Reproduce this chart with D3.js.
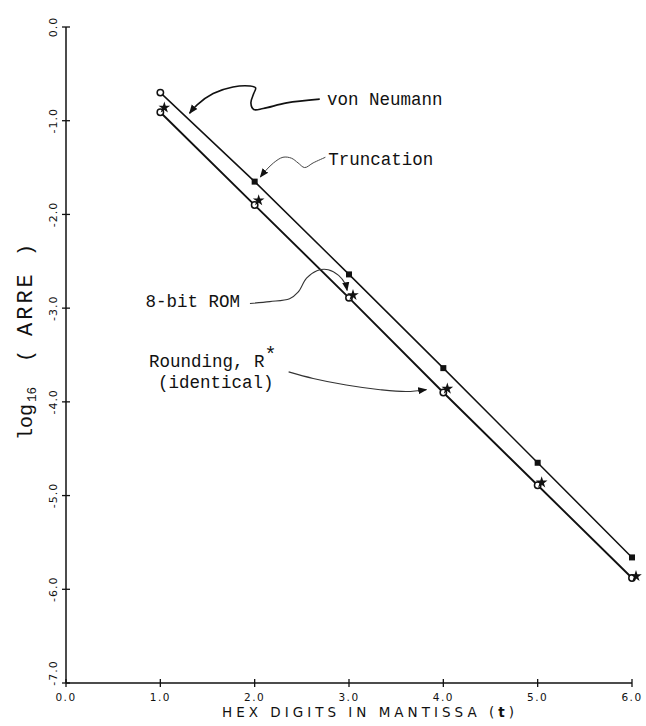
<!DOCTYPE html>
<html>
<head>
<meta charset="utf-8">
<script src="https://cdn.jsdelivr.net/npm/d3@7/dist/d3.min.js"></script>
<style>
  body { margin: 0; background: #fff; }
  svg { display: block; }
</style>
</head>
<body>
<svg id="chart" width="646" height="726"></svg>
<script>
// values, log16(ARRE) vs hex digits t
const hexDigits = [1, 2, 3, 4, 5, 6];
const xTicks = [0, 1, 2, 3, 4, 5, 6];
const yTicks = [0, -1, -2, -3, -4, -5, -6, -7];

const vonNeumannT = [1];
const vonNeumann = [-0.70];
const truncationT = [2, 3, 4, 5, 6];
const truncation = [-1.65, -2.64, -3.64, -4.65, -5.66];
const rounding = [-0.91, -1.90, -2.89, -3.90, -4.89, -5.88];   // R* identical
const rom8bit = [-0.86, -1.85, -2.86, -3.86, -4.86, -5.86];

// annotation curves, in data units [t, log16]
const arrowVonNeumann = [[2.69, -0.77], [2.34, -0.81], [2.09, -0.87], [1.99, -0.88], [1.96, -0.81],
  [1.99, -0.71], [2.01, -0.65], [1.95, -0.63], [1.77, -0.64], [1.56, -0.71], [1.39, -0.83], [1.31, -0.92]];
const arrowTruncation = [[2.75, -1.39], [2.62, -1.45], [2.53, -1.50], [2.46, -1.45], [2.39, -1.40],
  [2.30, -1.39], [2.20, -1.45], [2.11, -1.54], [2.06, -1.60]];
const arrowRom = [[1.95, -2.95], [2.16, -2.93], [2.37, -2.90], [2.46, -2.83], [2.55, -2.68],
  [2.66, -2.60], [2.78, -2.59], [2.89, -2.65], [2.96, -2.74], [2.98, -2.81]];
const arrowRounding = [[2.36, -3.68], [2.62, -3.75], [2.97, -3.82], [3.33, -3.87], [3.61, -3.89], [3.82, -3.87]];

const svg = d3.select('#chart');

const x = d3.scaleLinear().domain([0, 6]).range([66, 632]);
const y = d3.scaleLinear().domain([-7, 0]).range([683, 27]);

svg.append('defs').append('marker')
  .attr('id', 'head')
  .attr('viewBox', '0 0 10 10')
  .attr('refX', 9).attr('refY', 5)
  .attr('markerWidth', 9).attr('markerHeight', 9)
  .attr('markerUnits', 'userSpaceOnUse')
  .attr('orient', 'auto')
  .append('path').attr('d', 'M0,1 L10,5 L0,9 Z').attr('fill', '#111');

/***** Axes *****/
const yAxis = svg.append('g').attr('transform', `translate(${x(0)},0)`);
yAxis.append('line')
  .attr('y1', y(0)).attr('y2', y(-7))
  .attr('stroke', '#111').attr('stroke-width', 1.5);
yAxis.selectAll('line.tick').data(yTicks).join('line')
  .attr('class', 'tick')
  .attr('x1', -4).attr('x2', 4)
  .attr('y1', d => y(d)).attr('y2', d => y(d))
  .attr('stroke', '#111').attr('stroke-width', 1.3);
yAxis.selectAll('text').data(yTicks).join('text')
  .attr('transform', d => `translate(-9,${y(d) - (d === -7 ? 10 : 0)}) rotate(-90)`)
  .attr('text-anchor', 'middle')
  .attr('font-family', 'DejaVu Sans')
  .attr('font-size', 11)
  .attr('letter-spacing', 1)
  .attr('fill', '#111')
  .text(d => d3.format('.1f')(d).replace('−', '-'));

const xAxis = svg.append('g').attr('transform', `translate(0,${y(-7)})`);
xAxis.append('line')
  .attr('x1', x(0)).attr('x2', x(6))
  .attr('stroke', '#111').attr('stroke-width', 1.5);
xAxis.selectAll('line.tick').data(xTicks).join('line')
  .attr('class', 'tick')
  .attr('y1', -4).attr('y2', 4)
  .attr('x1', d => x(d)).attr('x2', d => x(d))
  .attr('stroke', '#111').attr('stroke-width', 1.3);
xAxis.selectAll('text').data(xTicks).join('text')
  .attr('x', d => x(d)).attr('y', 18)
  .attr('text-anchor', 'middle')
  .attr('font-family', 'DejaVu Sans')
  .attr('font-size', 10.5)
  .attr('letter-spacing', 1.5)
  .attr('fill', '#111')
  .text(d => d3.format('.1f')(d));

const xTitle = svg.append('text')
  .attr('x', 222).attr('y', 717)
  .attr('textLength', 292).attr('lengthAdjust', 'spacing')
  .attr('font-family', 'DejaVu Sans')
  .attr('font-size', 13.5)
  .attr('fill', '#111');
xTitle.append('tspan').text('HEX DIGITS IN MANTISSA (');
xTitle.append('tspan').attr('font-weight', 'bold').text('t');
xTitle.append('tspan').text(')');

// y title, rotated
const yTitle = svg.append('g').attr('transform', 'translate(32,0) rotate(-90)')
  .attr('font-family', 'Liberation Mono').attr('fill', '#111');
yTitle.append('text').attr('x', -440).attr('font-size', 20).text('log');
yTitle.append('text').attr('x', -402).attr('y', 4).attr('font-size', 12.5).text('16');
yTitle.append('text').attr('x', -362).attr('font-size', 20).text('(');
yTitle.append('text').attr('x', -336).attr('font-size', 22)
  .attr('letter-spacing', 3).text('ARRE');
yTitle.append('text').attr('x', -256).attr('font-size', 20).text(')');

/***** Lines *****/
const line = d3.line().x(d => x(d[0])).y(d => y(d[1]));

const upper = vonNeumannT.map((t, i) => [t, vonNeumann[i]])
  .concat(truncationT.map((t, i) => [t, truncation[i]]));
const lower = hexDigits.map((t, i) => [t, rounding[i]]);

svg.append('path').datum(upper)
  .attr('d', line).attr('fill', 'none')
  .attr('stroke', '#111').attr('stroke-width', 1.5);
svg.append('path').datum(lower)
  .attr('d', line).attr('fill', 'none')
  .attr('stroke', '#111').attr('stroke-width', 1.9);

// truncation squares
svg.selectAll('rect.trunc').data(truncationT).join('rect')
  .attr('class', 'trunc')
  .attr('x', (d, i) => x(d) - 3).attr('y', (d, i) => y(truncation[i]) - 3)
  .attr('width', 6).attr('height', 6)
  .attr('fill', '#111');

// open circles: von Neumann (t=1) and rounding / R*
const circles = vonNeumannT.map((t, i) => [t, vonNeumann[i]]).concat(lower);
svg.selectAll('circle').data(circles).join('circle')
  .attr('cx', d => x(d[0])).attr('cy', d => y(d[1]))
  .attr('r', 3.2)
  .attr('fill', '#fff')
  .attr('stroke', '#111').attr('stroke-width', 1.5);

// 8-bit ROM stars, drawn just right of the circle
svg.selectAll('path.star').data(hexDigits).join('path')
  .attr('class', 'star')
  .attr('transform', (d, i) => `translate(${x(d) + 4},${y(rom8bit[i])})`)
  .attr('d', d3.symbol().type(d3.symbolStar).size(42))
  .attr('fill', '#111');

/***** Annotations *****/
const curve = d3.line().x(d => x(d[0])).y(d => y(d[1])).curve(d3.curveCatmullRom);
[
  { pts: arrowVonNeumann, w: 1.6, c: '#111' },
  { pts: arrowTruncation, w: 1.0, c: '#444' },
  { pts: arrowRom, w: 1.1, c: '#333' },
  { pts: arrowRounding, w: 1.1, c: '#333' }
].forEach(a => {
  svg.append('path').datum(a.pts)
    .attr('d', curve).attr('fill', 'none')
    .attr('stroke', a.c).attr('stroke-width', a.w)
    .attr('marker-end', 'url(#head)');
});

const labels = [
  { t: 2.767, v: -0.832, text: 'von Neumann' },
  { t: 2.781, v: -1.473, text: 'Truncation' },
  { t: 0.843, v: -2.988, text: '8-bit ROM' },
  { t: 0.880, v: -3.628, text: 'Rounding, R' },
  { t: 0.975, v: -3.852, text: '(identical)' }
];
const lab = svg.selectAll('text.lab').data(labels).join('text')
  .attr('class', 'lab')
  .attr('x', d => x(d.t)).attr('y', d => y(d.v))
  .attr('font-family', 'Liberation Mono')
  .attr('font-size', 17.5)
  .attr('fill', '#111')
  .text(d => d.text);
lab.filter(d => d.text === 'Rounding, R').append('tspan')
  .attr('dy', -6).attr('font-size', 20).text('*');
</script>
</body>
</html>
